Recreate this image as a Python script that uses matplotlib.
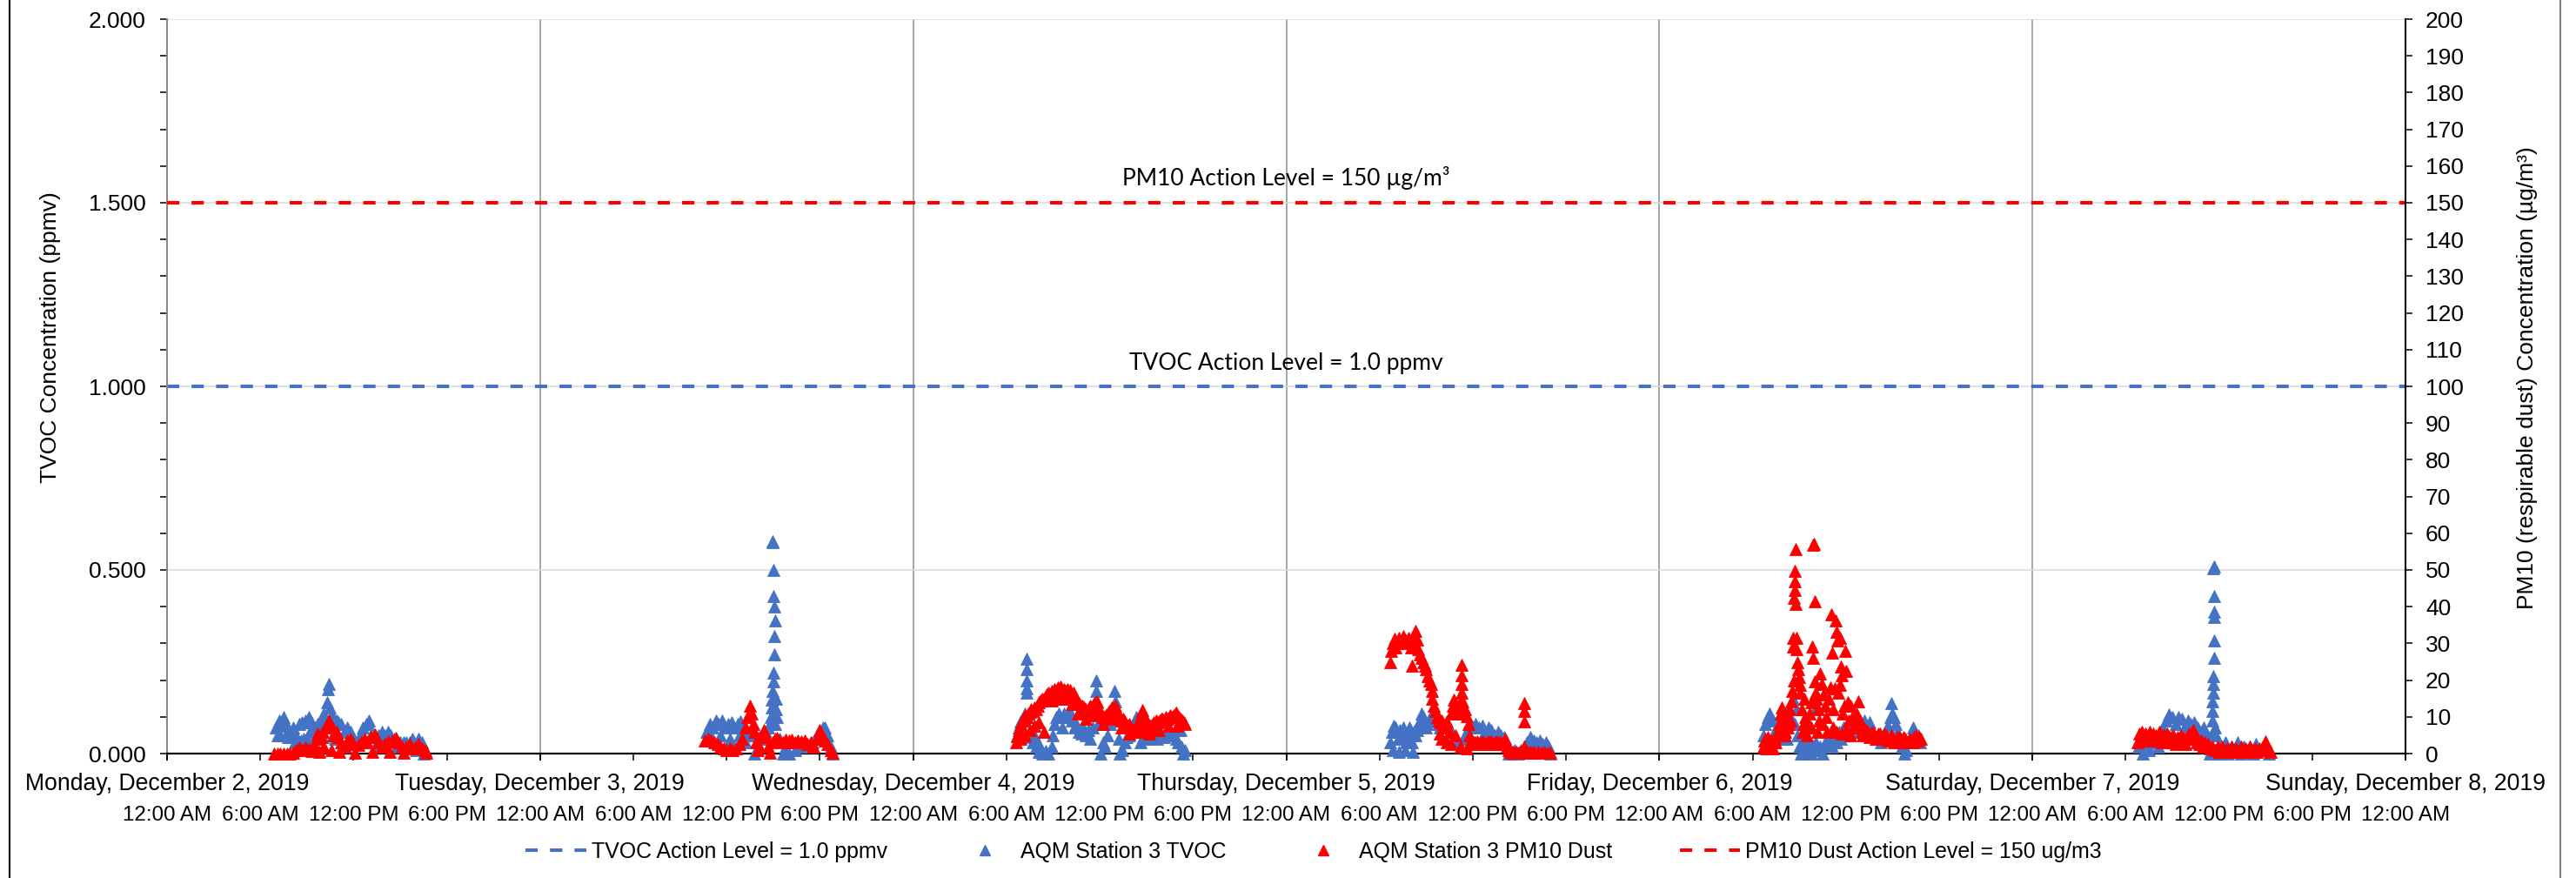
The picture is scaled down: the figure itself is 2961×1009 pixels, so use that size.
import datetime as dt
import numpy as np
import matplotlib
matplotlib.use("Agg")
import matplotlib.pyplot as plt
from matplotlib.lines import Line2D
from matplotlib.ticker import MultipleLocator, FormatStrFormatter

plt.rcParams['font.family'] = ['Liberation Sans', 'DejaVu Sans']

START = dt.datetime(2019, 12, 2)

# ---------------- data (hours after Mon Dec 2 2019 00:00) ----------------
mon_tvoc_h = [7.0, 7.1, 7.2, 7.3, 7.4, 7.5, 7.6, 7.7, 7.8, 7.9, 8.0, 8.1, 8.2, 8.3, 8.4, 8.5, 8.6, 8.7, 8.8, 8.9, 9.0, 9.1, 9.2, 9.3, 9.4, 9.5, 9.6, 9.7, 9.8, 9.9, 10.0, 10.1, 10.2, 10.3, 10.35, 10.4, 10.45, 10.5, 10.6, 10.7, 10.8, 10.9, 11.0, 11.2, 11.4, 11.5, 11.6, 11.8, 12.0, 12.2, 12.4, 12.6, 12.8, 13.0, 13.2, 13.4, 13.6, 13.8, 14.0, 14.2, 14.4, 14.6, 14.8, 15.0, 15.2, 15.4, 15.6, 15.8, 16.0, 16.2, 16.4, 16.5]
mon_tvoc_v = [0.07, 0.05, 0.09, 0.05, 0.08, 0.10, 0.05, 0.075, 0.045, 0.06, 0.045, 0.07, 0.03, 0.05, 0.03, 0.08, 0.035, 0.085, 0.04, 0.09, 0.04, 0.10, 0.06, 0.085, 0.03, 0.07, 0.05, 0.08, 0.06, 0.09, 0.045, 0.11, 0.08, 0.14, 0.175, 0.19, 0.125, 0.10, 0.08, 0.10, 0.04, 0.09, 0.085, 0.08, 0.06, 0.02, 0.07, 0.06, 0.04, 0.03, 0.05, 0.07, 0.08, 0.09, 0.06, 0.02, 0.05, 0.06, 0.05, 0.06, 0.05, 0.04, 0.02, 0.03, 0.03, 0.03, 0.03, 0.04, 0.01, 0.04, 0.03, 0.0]
mon_pm_h = [6.9, 7.1, 7.3, 7.5, 7.7, 7.9, 8.1, 8.3, 8.5, 8.7, 8.9, 9.1, 9.3, 9.5, 9.6, 9.7, 9.8, 9.9, 10.0, 10.1, 10.2, 10.3, 10.4, 10.5, 10.6, 10.7, 10.8, 10.9, 11.0, 11.1, 11.2, 11.4, 11.6, 11.8, 12.0, 12.1, 12.3, 12.5, 12.7, 12.9, 13.1, 13.2, 13.4, 13.6, 13.8, 14.0, 14.2, 14.3, 14.5, 14.7, 14.9, 15.1, 15.2, 15.4, 15.6, 15.8, 16.0, 16.2, 16.4, 16.6, 16.7]
mon_pm_v = [0, 0, 0, 0, 0, 0, 0.3, 1.0, 1.6, 1.0, 1.6, 1.2, 0.8, 2.0, 4.0, 5.5, 0.5, 4.5, 6.0, 2.0, 7.0, 8.0, 9.1, 7.5, 1.0, 5.0, 6.0, 5.9, 4.5, 0.5, 3.0, 2.0, 3.5, 4.0, 2.5, 0.3, 2.4, 3.0, 4.0, 3.0, 4.5, 0.5, 5.1, 3.0, 2.0, 2.5, 3.2, 0.5, 3.5, 4.3, 3.0, 2.0, 0.3, 2.0, 2.5, 1.5, 2.0, 2.5, 1.5, 1.0, 0.3]

tue_tvoc_h = [34.7, 34.8, 34.9, 35.0, 35.1, 35.3, 35.5, 35.6, 35.7, 35.9, 36.1, 36.2, 36.3, 36.5, 36.7, 36.8, 36.9, 37.1, 37.2, 37.3, 37.5, 37.7, 37.8, 37.9, 38.1, 38.3, 38.5, 38.7, 38.8, 38.85, 38.9, 38.9, 38.95, 39.0, 39.0, 39.05, 39.05, 39.1, 39.05, 39.0, 39.0, 38.95, 38.97, 39.15, 39.2, 39.25, 39.1, 39.4, 39.6, 39.8, 40.0, 40.2, 40.4, 40.6, 40.8, 41.0, 41.2, 41.5, 41.8, 42.0, 42.2, 42.3, 42.5, 42.7, 42.8]
tue_tvoc_v = [0.06, 0.04, 0.08, 0.05, 0.07, 0.09, 0.08, 0.05, 0.09, 0.07, 0.08, 0.04, 0.085, 0.07, 0.08, 0.05, 0.087, 0.07, 0.03, 0.06, 0.05, 0.055, 0.0, 0.05, 0.045, 0.04, 0.06, 0.07, 0.08, 0.10, 0.126, 0.146, 0.17, 0.197, 0.22, 0.27, 0.32, 0.363, 0.40, 0.43, 0.50, 0.579, 0.575, 0.15, 0.12, 0.10, 0.08, 0.04, 0.0, 0.02, 0.0, 0.03, 0.01, 0.03, 0.02, 0.03, 0.02, 0.03, 0.05, 0.06, 0.07, 0.071, 0.05, 0.02, 0.0]
tue_pm_h = [34.6, 34.8, 35.0, 35.2, 35.4, 35.6, 35.8, 36.0, 36.2, 36.4, 36.6, 36.8, 37.0, 37.2, 37.35, 37.5, 37.6, 37.7, 37.8, 37.9, 38.0, 38.1, 38.25, 38.4, 38.55, 38.7, 38.8, 38.95, 39.1, 39.25, 39.4, 39.6, 39.8, 40.0, 40.2, 40.4, 40.6, 40.8, 41.0, 41.2, 41.4, 41.6, 41.8, 42.0, 42.15, 42.3, 42.5, 42.7, 42.8]
tue_pm_v = [3.5, 4.0, 3.5, 3.0, 2.5, 2.0, 1.5, 1.0, 1.5, 1.0, 1.5, 2.5, 4.0, 7.0, 10.0, 13.0, 11.0, 8.0, 6.0, 3.0, 1.0, 2.0, 4.5, 6.3, 4.5, 2.0, 0.3, 3.0, 4.0, 4.3, 3.5, 3.0, 3.9, 3.5, 3.9, 3.0, 3.5, 3.2, 3.5, 2.5, 3.0, 2.0, 4.0, 6.3, 5.0, 3.5, 2.5, 1.0, 0.3]

wed_tvoc_h = [54.7, 54.8, 54.9, 55.0, 55.1, 55.2, 55.28, 55.29, 55.3, 55.3, 55.32, 55.35, 55.4, 55.5, 55.6, 55.7, 55.8, 55.9, 56.0, 56.1, 56.3, 56.5, 56.7, 56.9, 57.0, 57.1, 57.2, 57.35, 57.5, 57.6, 57.7, 57.9, 58.05, 58.2, 58.35, 58.5, 58.65, 58.8, 58.95, 59.1, 59.25, 59.4, 59.55, 59.7, 59.75, 59.77, 59.8, 59.9, 60.05, 60.2, 60.35, 60.5, 60.65, 60.8, 60.9, 60.95, 61.0, 61.1, 61.2, 61.3, 61.45, 61.6, 61.75, 61.9, 62.05, 62.2, 62.35, 62.5, 62.65, 62.8, 62.95, 63.1, 63.25, 63.4, 63.55, 63.7, 63.85, 64.0, 64.15, 64.3, 64.45, 64.6, 64.75, 64.9, 65.05, 65.18, 65.25, 65.35, 65.5]
wed_tvoc_v = [0.05, 0.07, 0.087, 0.06, 0.09, 0.11, 0.259, 0.229, 0.20, 0.178, 0.166, 0.10, 0.11, 0.063, 0.045, 0.03, 0.05, 0.018, 0.03, 0.005, 0.0, 0.008, 0.0, 0.02, 0.05, 0.08, 0.10, 0.11, 0.10, 0.07, 0.11, 0.10, 0.118, 0.09, 0.07, 0.08, 0.06, 0.055, 0.07, 0.05, 0.065, 0.04, 0.07, 0.12, 0.20, 0.17, 0.14, 0.08, 0.0, 0.03, 0.02, 0.05, 0.08, 0.10, 0.12, 0.17, 0.142, 0.09, 0.04, 0.0, 0.01, 0.03, 0.045, 0.05, 0.06, 0.07, 0.099, 0.06, 0.03, 0.045, 0.05, 0.04, 0.055, 0.045, 0.05, 0.04, 0.055, 0.05, 0.045, 0.055, 0.06, 0.05, 0.055, 0.04, 0.03, 0.063, 0.02, 0.0, 0.01]
wed_pm_h = [54.65, 54.7, 54.8, 54.9, 55.0, 55.1, 55.2, 55.3, 55.4, 55.5, 55.6, 55.7, 55.8, 55.9, 56.0, 56.1, 56.2, 56.3, 56.4, 56.42, 56.5, 56.6, 56.7, 56.8, 56.9, 57.0, 57.1, 57.2, 57.3, 57.4, 57.5, 57.6, 57.7, 57.8, 57.9, 58.0, 58.1, 58.2, 58.3, 58.4, 58.5, 58.6, 58.7, 58.8, 58.9, 59.0, 59.1, 59.2, 59.3, 59.4, 59.5, 59.6, 59.7, 59.8, 59.9, 60.0, 60.1, 60.2, 60.3, 60.4, 60.5, 60.6, 60.7, 60.8, 60.9, 61.0, 61.1, 61.2, 61.3, 61.4, 61.5, 61.6, 61.7, 61.8, 61.9, 62.0, 62.1, 62.2, 62.3, 62.4, 62.5, 62.6, 62.7, 62.76, 62.85, 62.95, 63.05, 63.15, 63.25, 63.35, 63.45, 63.55, 63.65, 63.75, 63.85, 63.95, 64.05, 64.15, 64.25, 64.35, 64.45, 64.55, 64.65, 64.75, 64.85, 64.9, 65.0, 65.1, 65.2, 65.3, 65.4, 65.5,
            54.9, 55.2, 55.5, 55.8, 56.1, 56.9, 57.3, 57.7, 58.2, 58.6, 59.1, 59.6, 60.2, 60.8, 61.4, 61.9, 62.6, 63.2, 63.8, 64.4, 65.0]
wed_pm_v = [3.0, 4.7, 6.5, 8.0, 9.0, 9.5, 10.5, 10.0, 11.0, 11.4, 12.0, 11.5, 12.6, 12.0, 13.0, 14.0, 14.5, 15.0, 15.0, 6.0, 15.5, 16.0, 16.5, 16.0, 17.0, 16.5, 17.5, 17.0, 18.0, 17.5, 18.2, 17.0, 17.5, 17.0, 17.5, 16.5, 17.4, 16.0, 16.5, 15.5, 15.0, 14.0, 13.5, 12.5, 13.0, 12.6, 12.0, 11.5, 12.5, 13.0, 12.5, 13.5, 14.0, 14.2, 12.5, 11.5, 11.0, 10.0, 9.9, 10.5, 11.0, 11.5, 12.0, 12.5, 12.0, 13.0, 11.5, 10.5, 10.0, 9.0, 9.5, 8.7, 8.0, 7.5, 8.0, 7.0, 6.5, 6.3, 7.0, 7.5, 8.5, 10.0, 11.0, 11.8, 10.5, 9.0, 8.0, 7.0, 7.5, 7.9, 8.5, 8.0, 9.0, 8.5, 9.0, 9.5, 9.5, 9.0, 10.0, 9.5, 10.0, 10.5, 10.0, 10.5, 11.0, 11.1, 10.5, 10.0, 9.5, 9.0, 8.5, 8.0,
            4.0, 5.0, 6.5, 7.5, 8.5, 14.5, 15.0, 15.0, 13.5, 11.0, 9.5, 10.5, 8.0, 9.5, 7.0, 5.5, 6.0, 5.5, 6.5, 7.5, 7.5]

thu_tvoc_h = [78.7, 78.8, 78.9, 79.0, 79.1, 79.2, 79.3, 79.4, 79.5, 79.6, 79.7, 79.8, 79.9, 80.0, 80.1, 80.2, 80.3, 80.4, 80.5, 80.6, 80.7, 80.8, 80.9, 81.0, 81.1, 81.2, 81.3, 81.4, 81.5, 81.6, 81.7, 81.8, 81.9, 82.0, 82.2, 82.4, 82.6, 82.8, 83.0, 83.2, 83.4, 83.6, 83.8, 84.0, 84.2, 84.4, 84.6, 84.8, 85.0, 85.2, 85.4, 85.6, 85.8, 86.0, 86.2, 86.3, 86.5, 86.7, 86.9, 87.1, 87.3, 87.5, 87.7, 87.9, 88.1, 88.3, 88.5, 88.7, 88.9, 89.0,
              78.85, 79.25, 79.65, 80.15, 84.1, 84.5, 85.1, 85.5]
thu_tvoc_v = [0.03, 0.06, 0.075, 0.07, 0.06, 0.04, 0.065, 0.05, 0.07, 0.06, 0.03, 0.06, 0.07, 0.05, 0.03, 0.06, 0.05, 0.065, 0.07, 0.09, 0.11, 0.10, 0.08, 0.07, 0.08, 0.09, 0.10, 0.11, 0.115, 0.10, 0.09, 0.08, 0.07, 0.08, 0.07, 0.08, 0.06, 0.05, 0.03, 0.02, 0.04, 0.06, 0.075, 0.07, 0.08, 0.07, 0.075, 0.06, 0.07, 0.065, 0.05, 0.06, 0.05, 0.045, 0.03, 0.0, 0.0, 0.01, 0.0, 0.01, 0.02, 0.03, 0.045, 0.035, 0.03, 0.035, 0.025, 0.03, 0.02, 0.0,
              0.01, 0.005, 0.01, 0.005, 0.03, 0.035, 0.03, 0.03]
thu_pm_h = [78.7, 78.75, 78.85, 78.95, 79.05, 79.15, 79.25, 79.35, 79.45, 79.55, 79.65, 79.75, 79.85, 79.95, 80.05, 80.1, 80.2, 80.3, 80.4, 80.5, 80.6, 80.7, 80.8, 80.9, 81.0, 81.1, 81.2, 81.3, 81.35, 81.4, 81.5, 81.6, 81.7, 81.8, 81.9, 82.0, 82.1, 82.2, 82.3, 82.4, 82.5, 82.6, 82.7, 82.8, 82.9, 83.0, 83.1, 83.2, 83.25, 83.27, 83.3, 83.3, 83.32, 83.4, 83.5, 83.6, 83.7, 83.8, 83.9, 84.0, 84.1, 84.2, 84.3, 84.4, 84.5, 84.6, 84.7, 84.8, 84.9, 85.0, 85.1, 85.2, 85.3, 85.4, 85.5, 85.6, 85.7, 85.8, 85.9, 86.0, 86.1, 86.2, 86.3, 86.4, 86.5, 86.6, 86.7, 86.8, 86.9, 87.0, 87.1, 87.2, 87.3, 87.3, 87.3, 87.32, 87.4, 87.5, 87.6, 87.7, 87.8, 87.9, 88.0, 88.2, 88.4, 88.6, 88.8, 89.0,
            81.9, 82.0, 82.3, 82.6, 82.9, 83.2, 83.6]
thu_pm_v = [25.0, 28.0, 30.0, 31.3, 29.0, 30.0, 31.5, 30.5, 31.0, 32.0, 31.0, 30.0, 31.5, 30.5, 29.0, 24.0, 31.0, 33.4, 31.0, 28.5, 27.0, 26.0, 25.0, 24.0, 23.0, 21.0, 20.0, 19.0, 17.0, 15.0, 13.0, 11.5, 10.0, 9.0, 8.5, 9.0, 8.0, 7.5, 8.7, 7.0, 6.0, 11.0, 13.0, 14.6, 12.0, 11.0, 13.0, 14.2, 24.1, 21.3, 19.0, 16.5, 14.2, 11.0, 12.2, 10.3, 8.0, 5.0, 3.5, 3.2, 2.5, 3.0, 3.2, 2.5, 3.0, 3.2, 3.0, 2.5, 3.0, 3.2, 3.0, 3.2, 2.5, 3.0, 3.2, 2.5, 3.0, 3.0, 2.5, 3.2, 4.0, 2.0, 1.0, 0.5, 0.3, 0.5, 0.3, 0.5, 0.3, 0.5, 0.3, 0.5, 2.0, 8.7, 11.5, 13.8, 1.0, 0.5, 0.3, 0.5, 0.3, 0.5, 0.3, 0.5, 0.3, 0.5, 0.3, 0.2,
            5.5, 4.0, 3.0, 2.5, 5.0, 2.0, 1.5]

fri_tvoc_h = [102.7, 102.8, 102.95, 103.1, 103.2, 103.3, 103.45, 103.55, 103.7, 103.8, 103.9, 104.0, 104.1, 104.2, 104.3, 104.45, 104.6, 104.7, 104.8, 104.9, 105.0, 105.1, 105.2, 105.3, 105.45, 105.6, 105.75, 105.9, 106.0, 106.05, 106.2, 106.35, 106.5, 106.65, 106.8, 106.95, 107.1, 107.25, 107.4, 107.55, 107.7, 107.85, 108.0, 108.15, 108.3, 108.45, 108.6, 108.75, 108.9, 109.05, 109.2, 109.35, 109.5, 109.65, 109.8, 109.95, 110.1, 110.25, 110.4, 110.55, 110.7, 110.85, 110.95, 111.0, 111.1, 111.2, 111.3, 111.45, 111.6, 111.75, 111.9, 112.05, 112.2, 112.35, 112.45, 112.55, 112.65, 112.75]
fri_tvoc_v = [0.05, 0.08, 0.10, 0.11, 0.03, 0.09, 0.06, 0.07, 0.10, 0.04, 0.11, 0.06, 0.08, 0.04, 0.12, 0.10, 0.15, 0.08, 0.12, 0.05, 0.02, 0.0, 0.03, 0.0, 0.01, 0.03, 0.0, 0.02, 0.12, 0.03, 0.01, 0.02, 0.0, 0.03, 0.02, 0.04, 0.02, 0.05, 0.03, 0.06, 0.04, 0.07, 0.05, 0.08, 0.06, 0.08, 0.07, 0.09, 0.06, 0.08, 0.09, 0.07, 0.085, 0.06, 0.05, 0.04, 0.05, 0.03, 0.045, 0.06, 0.075, 0.10, 0.138, 0.11, 0.10, 0.08, 0.06, 0.04, 0.02, 0.0, 0.01, 0.03, 0.05, 0.071, 0.06, 0.04, 0.05, 0.03]
fri_pm_h = [102.7, 102.75, 102.8, 102.85, 102.9, 103.0, 103.05, 103.1, 103.2, 103.3, 103.35, 103.4, 103.5, 103.55, 103.6, 103.7, 103.8, 103.85, 103.9, 104.0, 104.05, 104.1, 104.2, 104.25, 104.3, 104.4, 104.45, 104.5, 104.55, 104.6, 104.62, 104.65, 104.68, 104.7, 104.72, 104.73, 104.74, 104.75, 104.8, 104.83, 104.87, 104.92, 104.97, 105.02, 105.07, 105.15, 105.2, 105.25, 105.35, 105.4, 105.5, 105.55, 105.65, 105.75, 105.8, 105.85, 105.88, 105.9, 105.95, 105.98, 106.0, 106.05, 106.1, 106.15, 106.2, 106.3, 106.35, 106.45, 106.5, 106.55, 106.65, 106.75, 106.8, 106.9, 107.0, 107.05, 107.1, 107.15, 107.2, 107.3, 107.35, 107.4, 107.42, 107.45, 107.5, 107.6, 107.65, 107.7, 107.72, 107.75, 107.8, 107.9, 107.97, 108.0, 108.02, 108.1, 108.2, 108.3, 108.32, 108.4, 108.5, 108.6, 108.7, 108.8, 108.9, 109.0, 109.1, 109.2, 109.3, 109.4, 109.5, 109.6, 109.7, 109.8, 109.9, 110.0, 110.1, 110.2, 110.3, 110.4, 110.5, 110.6, 110.7, 110.8, 110.9, 111.0, 111.1, 111.2, 111.3, 111.4, 111.5, 111.6, 111.7, 111.8, 111.9, 112.0, 112.1, 112.2, 112.3, 112.4, 112.5, 112.6, 112.7, 112.8]
fri_pm_v = [2.0, 3.5, 4.0, 1.5, 3.0, 4.5, 2.0, 2.5, 3.5, 1.5, 3.0, 4.0, 3.0, 5.0, 6.0, 8.0, 11.0, 7.0, 12.6, 9.0, 5.0, 6.0, 10.3, 7.0, 8.0, 12.0, 9.0, 14.2, 17.0, 29.2, 31.6, 20.0, 42.3, 44.6, 47.0, 49.8, 40.7, 55.7, 31.6, 28.4, 25.0, 23.0, 20.8, 18.7, 16.5, 12.0, 6.0, 8.0, 15.0, 10.0, 5.0, 7.0, 11.0, 14.0, 7.0, 29.2, 26.0, 56.9, 57.0, 41.5, 19.7, 16.5, 15.0, 6.0, 12.0, 9.0, 21.7, 19.0, 8.0, 16.0, 13.0, 10.0, 6.0, 15.0, 18.0, 37.9, 27.6, 7.0, 12.0, 17.7, 36.3, 33.2, 6.0, 30.8, 16.5, 18.8, 31.6, 23.7, 5.5, 21.3, 11.0, 13.0, 28.0, 22.5, 6.5, 14.0, 9.0, 13.0, 5.0, 10.0, 7.0, 8.0, 11.0, 14.2, 9.0, 6.0, 5.0, 5.5, 6.5, 6.0, 4.5, 5.0, 6.0, 5.5, 4.0, 4.5, 5.5, 5.5, 4.0, 4.8, 5.5, 5.0, 3.5, 4.0, 5.0, 4.5, 3.0, 3.5, 4.5, 4.5, 3.0, 3.5, 4.5, 4.0, 3.0, 3.0, 4.0, 3.5, 3.0, 4.5, 5.0, 3.5, 4.5, 4.0]

sat_tvoc_h = [126.8, 126.9, 127.0, 127.2, 127.4, 127.6, 127.8, 128.0, 128.2, 128.4, 128.6, 128.8, 129.0, 129.2, 129.4, 129.6, 129.8, 130.0, 130.2, 130.4, 130.6, 130.8, 131.0, 131.2, 131.3, 131.4, 131.5, 131.55, 131.6, 131.6, 131.62, 131.63, 131.65, 131.66, 131.68, 131.7, 131.68, 131.7, 131.68, 131.65, 131.75, 131.8, 131.9, 132.0, 132.2, 132.4, 132.6, 132.8, 133.0, 133.2, 133.4, 133.6, 133.8, 134.0, 134.2, 134.4, 134.6, 134.8, 135.0, 135.2,
              127.1, 127.5, 128.1, 129.0, 129.6, 130.3, 130.9]
sat_tvoc_v = [0.02, 0.04, 0.03, 0.04, 0.025, 0.035, 0.04, 0.03, 0.05, 0.07, 0.09, 0.107, 0.10, 0.08, 0.10, 0.095, 0.07, 0.09, 0.08, 0.085, 0.07, 0.06, 0.07, 0.05, 0.02, 0.0, 0.05, 0.09, 0.115, 0.142, 0.166, 0.19, 0.21, 0.26, 0.308, 0.371, 0.387, 0.43, 0.51, 0.505, 0.07, 0.05, 0.0, 0.02, 0.01, 0.03, 0.0, 0.02, 0.01, 0.03, 0.0, 0.02, 0.01, 0.02, 0.0, 0.025, 0.01, 0.02, 0.01, 0.0,
              0.0, 0.01, 0.02, 0.05, 0.04, 0.04, 0.03]
sat_pm_h = [126.75, 126.85, 126.95, 127.05, 127.15, 127.25, 127.35, 127.45, 127.55, 127.65, 127.75, 127.85, 127.95, 128.05, 128.15, 128.25, 128.35, 128.45, 128.55, 128.65, 128.75, 128.85, 128.95, 129.05, 129.15, 129.25, 129.35, 129.45, 129.55, 129.65, 129.75, 129.85, 129.95, 130.05, 130.15, 130.25, 130.35, 130.45, 130.55, 130.65, 130.75, 130.85, 130.95, 131.05, 131.15, 131.3, 131.45, 131.6, 131.75, 131.9, 132.05, 132.2, 132.35, 132.5, 132.65, 132.8, 132.95, 133.1, 133.25, 133.4, 133.55, 133.7, 133.85, 134.0, 134.15, 134.3, 134.45, 134.6, 134.75, 134.9, 135.0, 135.1, 135.2, 135.3]
sat_pm_v = [3.0, 5.5, 4.0, 6.0, 4.5, 5.5, 3.5, 5.0, 6.0, 4.0, 5.5, 3.5, 5.0, 4.5, 6.0, 5.0, 3.0, 5.0, 4.0, 5.5, 3.5, 4.5, 3.0, 5.0, 4.0, 2.5, 4.5, 3.5, 5.0, 3.0, 4.0, 2.5, 4.5, 5.5, 4.0, 5.5, 6.3, 4.5, 3.0, 4.0, 2.5, 3.5, 2.0, 3.0, 2.0, 2.5, 1.5, 2.0, 1.0, 2.0, 0.5, 2.0, 1.0, 1.5, 0.5, 2.0, 1.0, 1.5, 0.5, 2.0, 1.0, 1.5, 0.5, 2.0, 1.0, 1.5, 0.5, 1.5, 1.0, 2.0, 3.2, 1.5, 1.0, 0.5]

tvoc_action_level = 1.0      # ppmv
pm10_action_level = 150.0    # ug/m3

day_labels = ['Monday, December 2, 2019', 'Tuesday, December 3, 2019', 'Wednesday, December 4, 2019',
              'Thursday, December 5, 2019', 'Friday, December 6, 2019', 'Saturday, December 7, 2019',
              'Sunday, December 8, 2019']
time_labels = ['12:00 AM', '6:00 AM', '12:00 PM', '6:00 PM'] * 6 + ['12:00 AM']

legend_labels = ['TVOC Action Level = 1.0 ppmv', 'AQM Station 3 TVOC', 'AQM Station 3 PM10 Dust',
                 'PM10 Dust Action Level = 150 ug/m3']

# ---------------- assemble ----------------
def to_dt(hours):
    return [START + dt.timedelta(hours=h) for h in hours]

tvoc_t = to_dt(mon_tvoc_h + tue_tvoc_h + wed_tvoc_h + thu_tvoc_h + fri_tvoc_h + sat_tvoc_h)
tvoc_v = mon_tvoc_v + tue_tvoc_v + wed_tvoc_v + thu_tvoc_v + fri_tvoc_v + sat_tvoc_v
pm_t = to_dt(mon_pm_h + tue_pm_h + wed_pm_h + thu_pm_h + fri_pm_h + sat_pm_h)
pm_v = mon_pm_v + tue_pm_v + wed_pm_v + thu_pm_v + fri_pm_v + sat_pm_v

BLUE = '#4472C4'
RED = '#FF0000'
W, H = 2961, 1009
fig = plt.figure(figsize=(W / 100, H / 100), dpi=100)
ax = fig.add_axes([192 / W, (H - 866) / H, (2765 - 192) / W, (866 - 22) / H])
ax2 = ax.twinx()

day_ticks = [START + dt.timedelta(days=d) for d in range(7)]
six_h_ticks = [START + dt.timedelta(hours=6 * k) for k in range(25)]

ax.set_xlim(day_ticks[0], day_ticks[-1])
ax.set_ylim(0, 2.0)
ax2.set_ylim(0, 200)

# grid
ax.set_yticks(np.arange(0, 2.01, 0.5))
ax.yaxis.set_minor_locator(MultipleLocator(0.1))
ax.yaxis.set_major_formatter(FormatStrFormatter('%.3f'))
ax.grid(axis='y', which='major', color='#D9D9D9', lw=1.1, zorder=0)
ax.set_xticks(day_ticks, labels=day_labels)
ax.set_xticks(six_h_ticks, labels=time_labels, minor=True)
ax.xaxis.remove_overlapping_locs = False
ax.grid(axis='x', which='major', color='#A6A6A6', lw=1.4, zorder=0)
ax.set_axisbelow(True)

ax2.set_yticks(np.arange(0, 201, 10))

# action levels
ax.axhline(tvoc_action_level, color=BLUE, lw=2.9, dashes=(3.5, 3.5), zorder=2)
ax2.axhline(pm10_action_level, color=RED, lw=2.9, dashes=(3.5, 3.5), zorder=2)

# data
ms = 10.0
ax.plot(tvoc_t, tvoc_v, ls='none', marker='^', ms=ms, color=BLUE, mec=BLUE, mew=0.6, clip_on=False, zorder=3)
ax2.plot(pm_t, pm_v, ls='none', marker='^', ms=ms, color=RED, mec=RED, mew=0.6, clip_on=False, zorder=3)

# text annotations
ax.text(0.5, 1.5 + 29 / 422, 'PM10 Action Level = 150 µg/m³', transform=ax.get_yaxis_transform(),
        ha='center', va='center', fontsize=19, family=['Lato', 'DejaVu Sans'])
ax.text(0.5, 1.0 + 27 / 422, 'TVOC Action Level = 1.0 ppmv', transform=ax.get_yaxis_transform(),
        ha='center', va='center', fontsize=19, family=['Lato', 'DejaVu Sans'])

# spines and ticks
for s in ['top', 'right']:
    ax.spines[s].set_visible(False)
for s in ['top', 'left', 'bottom']:
    ax2.spines[s].set_visible(False)
ax.spines['left'].set_color('#868686')
ax.spines['left'].set_linewidth(1.5)
ax.spines['bottom'].set_color('black')
ax.spines['bottom'].set_linewidth(1.6)
ax2.spines['right'].set_color('black')
ax2.spines['right'].set_linewidth(1.5)

ax.tick_params(axis='y', which='both', direction='out', length=5.8, width=1.1, color='black',
               labelsize=19, pad=11.5)
ax2.tick_params(axis='y', which='major', direction='out', length=5.8, width=1.1, color='black',
                labelsize=19, pad=10.8)
ax.tick_params(axis='x', which='major', direction='out', length=5.8, width=1.1, color='black',
               labelsize=19.2, pad=10)
ax.tick_params(axis='x', which='minor', direction='out', length=5.8, width=1.1, color='black',
               labelsize=17.4, pad=37.5)

ax.set_ylabel('TVOC Concentration (ppmv)', fontsize=19)
ax.yaxis.set_label_coords((58 - 192) / 2573, (866 - 388) / 844)
ax.yaxis.label.set_va('center')
ax2.set_ylabel('PM10 (respirable dust) Concentration (µg/m³)', fontsize=19, rotation=90)
ax2.yaxis.set_label_coords((2905 - 192) / 2573, (866 - 434) / 844)
ax2.yaxis.label.set_va('center')

# legend
handles = [Line2D([], [], color=BLUE, lw=2.9, dashes=(3.5, 3.5)),
           Line2D([], [], ls='none', marker='^', ms=9.2, color=BLUE),
           Line2D([], [], ls='none', marker='^', ms=9.2, color=RED),
           Line2D([], [], color=RED, lw=2.9, dashes=(3.5, 3.5))]
fig.legend(handles, legend_labels, loc='center', bbox_to_anchor=(0.51, (H - 979) / H), ncol=4,
           frameon=False, fontsize=17.9, handlelength=2.8, handletextpad=0.25, columnspacing=3.1)

# chart-area border
fig.add_artist(Line2D([11 / W, 11 / W], [0, 1], transform=fig.transFigure, color='black', lw=1.5))
fig.add_artist(Line2D([2943 / W, 2943 / W], [0, 1], transform=fig.transFigure, color='#7F7F7F', lw=1.5))

fig.savefig('out.png', dpi=100)
